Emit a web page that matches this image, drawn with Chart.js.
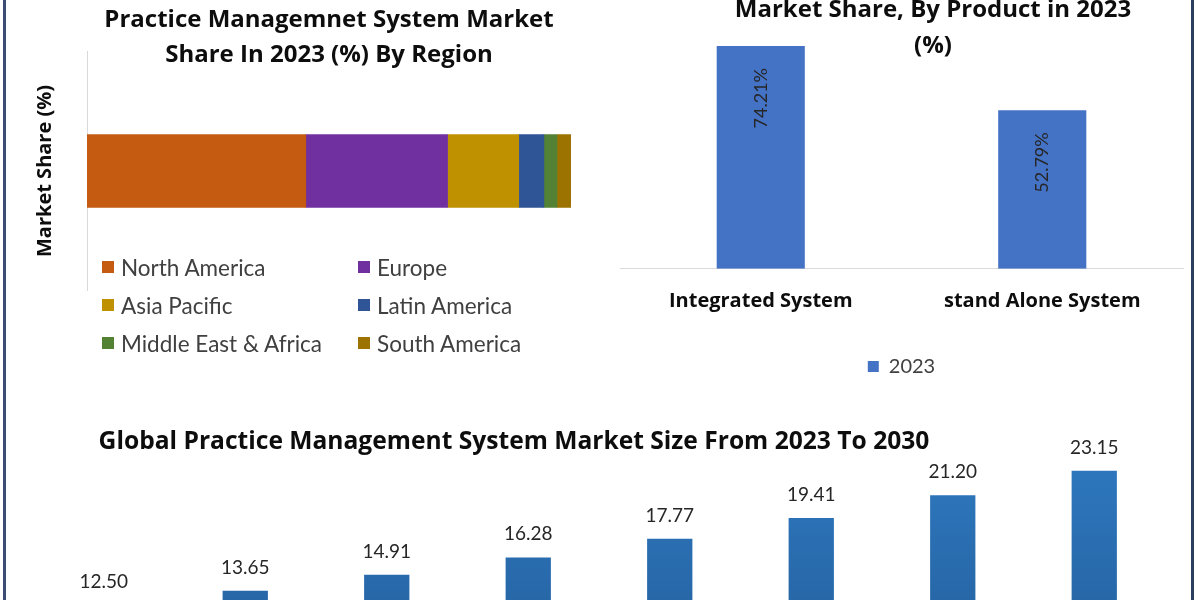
<!DOCTYPE html>
<html>
<head>
<meta charset="utf-8">
<title>Practice Management System Market</title>
<script src="https://cdn.jsdelivr.net/npm/chart.js@4.4.1/dist/chart.umd.min.js"></script>
<style>
    html, body {
        margin: 0;
        padding: 0;
        width: 1200px;
        height: 600px;
        overflow: hidden;
        background: #ffffff;
    }
    body {
        position: relative;
        font-family: Lato, "Open Sans", sans-serif;
    }
    canvas {
        position: absolute;
    }
    #regionChart { left: 0; top: 0; }
    #productChart { left: 600px; top: 0; }
    #sizeChart { left: -137px; top: 400px; }
    .frame {
        position: absolute;
        top: 0;
        width: 3px;
        height: 600px;
        z-index: 5;
    }
    #region-legend {
        position: absolute;
        left: 102px;
        top: 248px;
        display: grid;
        grid-template-columns: 256px 220px;
        grid-auto-rows: 38px;
        font-size: 22.5px;
        color: #404040;
    }
    #region-legend .item {
        display: flex;
        align-items: center;
        white-space: nowrap;
    }
    #region-legend .swatch {
        width: 12px;
        height: 12px;
        margin-right: 7px;
        flex: none;
    }
</style>
</head>
<body>
<div class="frame" style="left:3px;background:#3b4d74;"></div>
<div class="frame" style="left:1191px;background:#2b3f5e;"></div>

<canvas id="regionChart" width="620" height="300"></canvas>
<div id="region-legend"></div>
<canvas id="productChart" width="646" height="400"></canvas>
<canvas id="sizeChart" width="1302" height="370"></canvas>

<script>
// region split, 2023 (%)
const regionLabels = ['North America', 'Europe', 'Asia Pacific', 'Latin America', 'Middle East & Africa', 'South America'];
const regionShares = [45.2, 29.3, 14.7, 5.2, 2.7, 2.9];
const regionColors = ['#c55a11', '#7030a0', '#bf9000', '#2f5597', '#548235', '#9c7300'];

// product split, 2023 (%)
const productLabels = ['Integrated System', 'stand Alone System'];
const productShares = [74.21, 52.79];

// market size 2023 - 2030
const years = ['2023', '2024', '2025', '2026', '2027', '2028', '2029', '2030'];
const marketSize = [12.50, 13.65, 14.91, 16.28, 17.77, 19.41, 21.20, 23.15];

const FONT = 'Lato';
const BOLD = '"Open Sans"';

// draws the value text for bars
const valueLabels = {
    id: 'valueLabels',
    afterDatasetsDraw(chart, args, opts) {
        if (!opts || !opts.mode) return;
        const ctx = chart.ctx;
        ctx.save();
        ctx.fillStyle = opts.color || '#262626';
        ctx.font = opts.size + 'px ' + FONT;
        chart.data.datasets.forEach(function (ds, di) {
            const meta = chart.getDatasetMeta(di);
            meta.data.forEach(function (bar, i) {
                const v = ds.data[i];
                if (opts.mode === 'inside') {
                    ctx.save();
                    ctx.translate(bar.x, bar.y + opts.offset);
                    ctx.rotate(-Math.PI / 2);
                    ctx.textAlign = 'right';
                    ctx.textBaseline = 'middle';
                    ctx.fillText(v.toFixed(2) + '%', 0, 0);
                    ctx.restore();
                } else {
                    ctx.textAlign = 'center';
                    ctx.textBaseline = 'alphabetic';
                    ctx.fillText(v.toFixed(2), bar.x, bar.y - opts.offset);
                }
            });
        });
        ctx.restore();
    }
};

// invisible axis used only to reserve room beside the plot
function spacer(width) {
    return function (scale) {
        scale.width = width;
    };
}

function regionChart() {
    const ctx = document.getElementById('regionChart').getContext('2d');
    new Chart(ctx, {
        type: 'bar',
        data: {
            labels: ['2023'],
            datasets: regionLabels.map((name, i) => ({
                label: name,
                data: [regionShares[i]],
                backgroundColor: regionColors[i],
                barThickness: 73
            }))
        },
        options: {
            indexAxis: 'y',
            responsive: false,
            animation: false,
            layout: {padding: {left: 5, right: 49, top: 0, bottom: 10}},
            plugins: {
                legend: {display: false},
                tooltip: {enabled: false},
                title: {
                    display: true,
                    fullSize: false,
                    text: ['Practice Managemnet System Market', 'Share In 2023 (%) By Region'],
                    color: '#0d0d0d',
                    font: {family: BOLD, size: 24, weight: 'bold', lineHeight: 1.458},
                    padding: {top: 2.5, bottom: -20.5}
                }
            },
            scales: {
                x: {display: false, stacked: true, min: 0, max: 100},
                y: {
                    stacked: true,
                    grid: {display: false, drawTicks: false},
                    border: {display: true, color: '#d9d9d9'},
                    ticks: {display: false},
                    title: {
                        display: true,
                        text: 'Market Share (%)',
                        color: '#0d0d0d',
                        font: {family: BOLD, size: 20, weight: 'bold'},
                        padding: {top: 28, bottom: 30}
                    }
                }
            }
        }
    });

    const box = document.getElementById('region-legend');
    regionLabels.forEach(function (name, i) {
        const item = document.createElement('div');
        item.className = 'item';
        const sw = document.createElement('span');
        sw.className = 'swatch';
        sw.style.background = regionColors[i];
        item.appendChild(sw);
        item.appendChild(document.createTextNode(name));
        box.appendChild(item);
    });
}

function productChart() {
    const ctx = document.getElementById('productChart').getContext('2d');
    new Chart(ctx, {
        type: 'bar',
        data: {
            labels: productLabels,
            datasets: [{
                label: '2023',
                data: productShares,
                backgroundColor: '#4472c4',
                categoryPercentage: 1,
                barPercentage: 0.313
            }]
        },
        options: {
            responsive: false,
            animation: false,
            layout: {padding: {left: 20, right: 0, top: 0, bottom: 13.5}},
            plugins: {
                tooltip: {enabled: false},
                title: {
                    display: true,
                    text: ['Market Share, By Product in 2023', '(%)'],
                    color: '#0d0d0d',
                    font: {family: BOLD, size: 24, weight: 'bold', lineHeight: 1.5},
                    padding: {top: -8, bottom: -35.4}
                },
                legend: {
                    display: true,
                    position: 'bottom',
                    fullSize: false,
                    labels: {
                        boxWidth: 11,
                        boxHeight: 11,
                        padding: 23.7,
                        color: '#404040',
                        font: {family: FONT, size: 20}
                    }
                },
                valueLabels: {mode: 'inside', size: 18, offset: 22, color: '#262626'}
            },
            scales: {
                y: {
                    position: 'right',
                    min: 0,
                    max: 80,
                    grid: {display: false, drawTicks: false},
                    border: {display: false},
                    ticks: {display: false},
                    afterFit: spacer(63)
                },
                x: {
                    grid: {display: false, drawTicks: false},
                    border: {display: true, color: '#d9d9d9'},
                    ticks: {
                        padding: 20,
                        color: '#0d0d0d',
                        font: {family: BOLD, size: 20, weight: 'bold'}
                    }
                }
            }
        },
        plugins: [valueLabels]
    });
}

function sizeChart() {
    const ctx = document.getElementById('sizeChart').getContext('2d');
    let gradient = null;
    new Chart(ctx, {
        type: 'bar',
        data: {
            labels: years,
            datasets: [{
                label: 'Market Size',
                data: marketSize,
                backgroundColor: function (c) {
                    const area = c.chart.chartArea;
                    if (!area) return '#2e75b6';
                    if (!gradient) {
                        gradient = c.chart.ctx.createLinearGradient(0, area.top, 0, area.bottom);
                        gradient.addColorStop(0, '#2e78be');
                        gradient.addColorStop(1, '#1f548f');
                    }
                    return gradient;
                },
                categoryPercentage: 1,
                barPercentage: 0.32
            }]
        },
        options: {
            responsive: false,
            animation: false,
            layout: {padding: {left: 0, right: 0, top: 0, bottom: 7}},
            plugins: {
                legend: {display: false},
                tooltip: {enabled: false},
                title: {
                    display: true,
                    text: 'Global Practice Management System Market Size From 2023 To 2030',
                    color: '#0d0d0d',
                    font: {family: BOLD, size: 24.6, weight: 'bold', lineHeight: 1.2},
                    padding: {top: 27.2, bottom: 3.3}
                },
                valueLabels: {mode: 'above', size: 19, offset: 17, color: '#262626'}
            },
            scales: {
                x: {display: false},
                y: {
                    min: 0,
                    max: 24,
                    grid: {display: false, drawTicks: false},
                    border: {display: false},
                    ticks: {display: false},
                    afterFit: spacer(170)
                }
            }
        },
        plugins: [valueLabels]
    });
}

window.onload = function () {
    regionChart();
    productChart();
    sizeChart();
};
</script>
</body>
</html>
